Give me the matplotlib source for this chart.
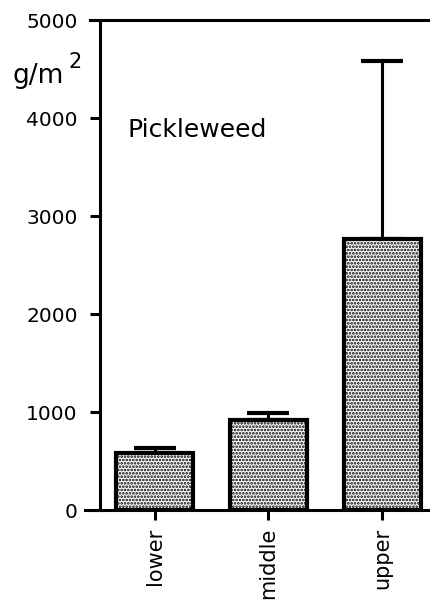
import matplotlib
matplotlib.use("Agg")
import matplotlib.pyplot as plt
from matplotlib.lines import Line2D

# data
zones = ["lower", "middle", "upper"]
biomass = [580, 920, 2770]          # g/m^2
err_up = [50, 70, 1810]             # upper error only

yticks = [0, 1000, 2000, 3000, 4000, 5000]

plt.rcParams['font.family'] = ['DejaVu Sans']
plt.rcParams['hatch.linewidth'] = 1.3

fig = plt.figure(figsize=(4.30, 6.01), dpi=100)
ax = fig.add_axes([0.2326, 0.1514, 0.7674, 0.8153])

x = list(range(len(zones)))
ax.bar(x, biomass, width=0.68, facecolor="white", edgecolor="black",
       linewidth=3, hatch=".....", zorder=2)
ax.errorbar(x, biomass, yerr=[[0] * len(err_up), err_up], fmt="none",
            ecolor="black", elinewidth=2.2, capsize=15, capthick=3, zorder=1)

ax.set_xlim(-0.48, 2.42)
ax.set_ylim(0, 5000)
ax.set_yticks(yticks)
ax.set_yticklabels([str(v) for v in yticks], fontsize=14.5)
ax.set_xticks(x)
ax.set_xticklabels(zones, rotation=90, fontsize=15)
ax.tick_params(axis="y", length=7, width=2.2, pad=9)
ax.tick_params(axis="x", length=7, width=2.2, pad=6)

for side in ["left", "bottom", "top"]:
    ax.spines[side].set_linewidth(2.2)
ax.spines["right"].set_visible(False)

# little overhang of the bottom and top lines left of the y axis
ax.add_line(Line2D([-0.045, 0], [0, 0], transform=ax.transAxes,
                   color="black", lw=2.2, clip_on=False))
ax.add_line(Line2D([-0.03, 0], [1, 1], transform=ax.transAxes,
                   color="black", lw=2.2, clip_on=False))

ax.text(0.082, 3880, "Pickleweed", fontsize=18, va="center", ha="left",
        transform=ax.get_yaxis_transform())

fig.text(12 / 430, 1 - 83 / 601, "g/m", fontsize=19, ha="left", va="baseline")
fig.text(68 / 430, 1 - 68 / 601, "2", fontsize=15, ha="left", va="baseline")

fig.savefig("out.png", dpi=100)
